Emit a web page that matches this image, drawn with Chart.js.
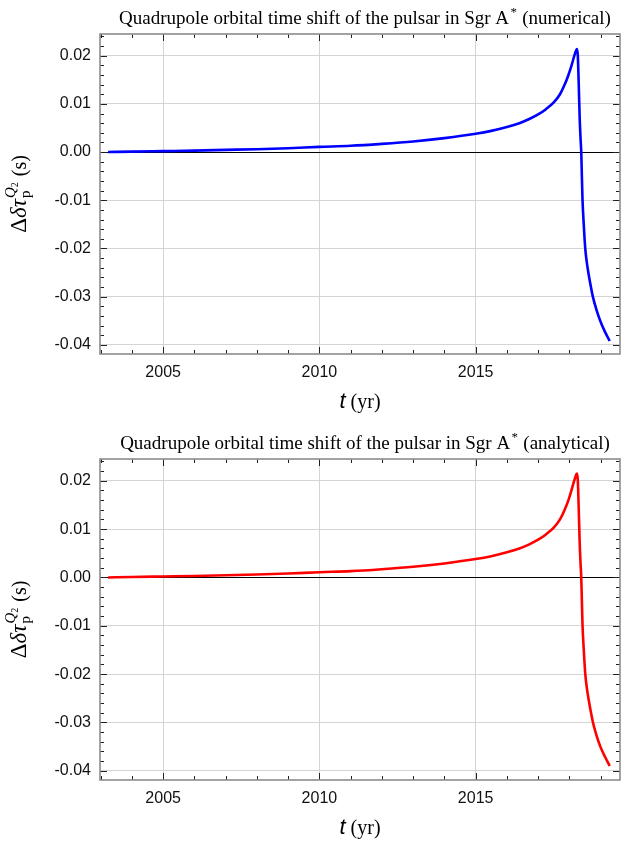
<!DOCTYPE html>
<html>
<head>
<meta charset="utf-8">
<script src="https://cdn.jsdelivr.net/npm/chart.js@4/dist/chart.umd.min.js"></script>
<style>
  html, body { margin: 0; padding: 0; background: #fff; }
  .box { position: absolute; left: 0; width: 627px; }
</style>
</head>
<body>
<div class="box" style="top:0;height:422px"><canvas id="c1" width="627" height="422"></canvas></div>
<div class="box" style="top:425px;height:420px"><canvas id="c2" width="627" height="420"></canvas></div>
<script>
// ---- data ----
const years = [2003.24, 2004, 2005, 2006, 2007, 2008, 2009, 2010, 2011, 2012, 2013, 2014, 2015, 2015.5, 2016, 2016.4, 2016.7, 2017.0, 2017.25, 2017.5, 2017.7, 2017.85, 2017.97, 2018.07, 2018.15, 2018.21, 2018.245, 2018.27, 2018.30, 2018.33, 2018.36, 2018.38, 2018.40, 2018.421, 2018.46, 2018.508, 2018.56, 2018.623, 2018.69, 2018.751, 2018.87, 2018.998, 2019.14, 2019.29];
const numericalShift = [0.0000, 0.0001, 0.0002, 0.0003, 0.00045, 0.0006, 0.0008, 0.00108, 0.0013, 0.0017, 0.0022, 0.0029, 0.0038, 0.0044, 0.0052, 0.0060, 0.0068, 0.0078, 0.0089, 0.0103, 0.0120, 0.0140, 0.0160, 0.0180, 0.0198, 0.0210, 0.0214, 0.0200, 0.0140, 0.0070, 0.0025, 0.0000, -0.0050, -0.0100, -0.0150, -0.0200, -0.0230, -0.0256, -0.0280, -0.0300, -0.0328, -0.0352, -0.0373, -0.0392];
const analyticalShift = [0.0000, 0.0001, 0.0002, 0.0003, 0.00045, 0.0006, 0.0008, 0.00108, 0.0013, 0.0017, 0.0022, 0.0029, 0.0038, 0.0044, 0.0052, 0.0060, 0.0068, 0.0078, 0.0089, 0.0103, 0.0120, 0.0140, 0.0160, 0.0181, 0.0199, 0.0211, 0.0215, 0.0201, 0.0141, 0.0071, 0.0026, 0.0001, -0.0049, -0.0099, -0.0149, -0.0199, -0.0229, -0.0255, -0.0279, -0.0299, -0.0327, -0.0351, -0.0371, -0.0390];
const xMajorTicks = [2005, 2010, 2015];
const yMajorTicks = [-0.04, -0.03, -0.02, -0.01, 0.00, 0.01, 0.02];
const titles = ["Quadrupole orbital time shift of the pulsar in Sgr A", "Quadrupole orbital time shift of the pulsar in Sgr A"];
const titleTails = [" (numerical)", " (analytical)"];

const SERIF = '"Liberation Serif", "Times New Roman", serif';
const SANS = '"Liberation Sans", Arial, sans-serif';

const decorPlugin = {
  id: 'decor',
  afterDatasetsDraw(chart, args, opts) {
    const ctx = chart.ctx;
    const a = chart.chartArea;
    const xs = chart.scales.x, ys = chart.scales.y;
    ctx.save();
    // inward ticks on all four sides
    ctx.strokeStyle = '#222';
    ctx.lineWidth = 1;
    ctx.beginPath();
    for (let yr = 2003; yr <= 2019; yr++) {
      const px = Math.round(xs.getPixelForValue(yr)) + 0.5;
      const len = yr % 5 === 0 ? 7 : 4;
      ctx.moveTo(px, a.bottom); ctx.lineTo(px, a.bottom - len);
      ctx.moveTo(px, a.top); ctx.lineTo(px, a.top + len);
    }
    for (let k = -20; k <= 12; k++) {
      const v = k * 0.002;
      if (v < ys.min || v > ys.max) continue;
      const py = Math.round(ys.getPixelForValue(v)) + 0.5;
      const len = k % 5 === 0 ? 7 : 4;
      ctx.moveTo(a.left, py); ctx.lineTo(a.left + len, py);
      ctx.moveTo(a.right, py); ctx.lineTo(a.right - len, py);
    }
    ctx.stroke();
    // frame
    ctx.strokeStyle = '#8c8c8c';
    ctx.lineWidth = 1.6;
    ctx.strokeRect(a.left, a.top, a.right - a.left, a.bottom - a.top);

    // title
    ctx.fillStyle = '#000';
    ctx.textBaseline = 'alphabetic';
    const main = opts.title, tail = opts.tail;
    ctx.font = '19px ' + SERIF;
    const wMain = ctx.measureText(main).width;
    ctx.font = '13px ' + SERIF;
    const wStar = ctx.measureText('*').width + 2;
    ctx.font = '19px ' + SERIF;
    const wTail = ctx.measureText(tail).width;
    const total = wMain + wStar + wTail;
    let tx = 365 - total / 2;
    const tb = a.top - 10;
    ctx.textAlign = 'left';
    ctx.fillText(main, tx, tb);
    tx += wMain;
    ctx.font = '13px ' + SERIF;
    ctx.fillText('*', tx + 1.5, tb - 8);
    tx += wStar;
    ctx.font = '19px ' + SERIF;
    ctx.fillText(tail, tx, tb);

    // x-axis title: t (yr)
    const xc = (a.left + a.right) / 2;
    const xb = a.bottom + 54;
    ctx.font = 'italic 22px ' + SANS;
    const wt = ctx.measureText('t').width;
    ctx.font = '20px ' + SERIF;
    const wy = ctx.measureText(' (yr)').width;
    let lx = xc - (wt + wy) / 2;
    ctx.font = 'italic 22px ' + SANS;
    ctx.fillText('t', lx, xb);
    ctx.font = '20px ' + SERIF;
    ctx.fillText(' (yr)', lx + wt, xb);

    // y-axis title: Δδτ_p^{Q2} (s)  rotated
    const yc = (a.top + a.bottom) / 2;
    ctx.translate(26, yc);
    ctx.rotate(-Math.PI / 2);
    ctx.font = '23px ' + SERIF; const w1 = ctx.measureText('Δ').width;
    ctx.font = 'italic 23px ' + SERIF; const w2 = ctx.measureText('δτ').width;
    ctx.font = '15px ' + SERIF; const wp = ctx.measureText('p').width;
    ctx.font = 'italic 15px ' + SERIF; const wq = ctx.measureText('Q').width;
    ctx.font = '10px ' + SERIF; const w2s = ctx.measureText('2').width;
    const wsup = Math.max(wp, wq + w2s) + 2;
    ctx.font = '20px ' + SERIF; const ws = ctx.measureText(' (s)').width;
    const tot = w1 + w2 + wsup + ws;
    let p = -tot / 2;
    ctx.textAlign = 'left';
    ctx.font = '23px ' + SERIF; ctx.fillText('Δ', p, 0); p += w1;
    ctx.font = 'italic 23px ' + SERIF; ctx.fillText('δτ', p, 0); p += w2;
    ctx.font = '15px ' + SERIF; ctx.fillText('p', p + 1, 4);
    ctx.font = 'italic 15px ' + SERIF; ctx.fillText('Q', p + 1, -11);
    ctx.font = '10px ' + SERIF; ctx.fillText('2', p + 1 + wq, -8);
    p += wsup;
    ctx.font = '20px ' + SERIF; ctx.fillText(' (s)', p, 0);
    ctx.restore();
  }
};

function makeChart(id, values, color, idx, areaBottomRel, canvasH) {
  const points = years.map((x, i) => ({ x: x, y: values[i] }));
  return new Chart(document.getElementById(id), {
    type: 'line',
    data: {
      datasets: [{
        data: points,
        borderColor: color,
        borderWidth: 2.6,
        pointRadius: 0,
        fill: false,
        cubicInterpolationMode: 'monotone',
        clip: false
      }]
    },
    options: {
      responsive: false,
      animation: false,
      events: [],
      layout: { padding: { top: 34, right: 7, left: 0, bottom: 0 } },
      plugins: {
        legend: { display: false },
        tooltip: { enabled: false },
        title: { display: false },
        decor: { title: titles[idx], tail: titleTails[idx] }
      },
      scales: {
        x: {
          type: 'linear',
          min: 2002.98,
          max: 2019.62,
          afterBuildTicks: s => { s.ticks = xMajorTicks.map(v => ({ value: v })); },
          afterFit: s => { s.height = canvasH - areaBottomRel; },
          ticks: {
            color: '#111',
            font: { family: SANS, size: 16 },
            padding: 9,
            maxRotation: 0,
            callback: v => String(v)
          },
          grid: { color: '#d4d4d4', lineWidth: 1, drawTicks: false },
          border: { display: false }
        },
        y: {
          type: 'linear',
          min: -0.0419,
          max: 0.0245,
          afterBuildTicks: s => { s.ticks = yMajorTicks.map(v => ({ value: v })); },
          afterFit: s => { s.width = 100; },
          ticks: {
            color: '#111',
            font: { family: SANS, size: 16 },
            padding: 9,
            callback: v => Number(v).toFixed(2)
          },
          grid: {
            color: c => (Math.abs(c.tick.value) < 1e-9 ? '#000' : '#d4d4d4'),
            lineWidth: 1,
            drawTicks: false
          },
          border: { display: false }
        }
      }
    },
    plugins: [decorPlugin]
  });
}

makeChart('c1', numericalShift, '#0000ff', 0, 354, 422);
makeChart('c2', analyticalShift, '#ff0000', 1, 355, 420);
</script>
</body>
</html>
